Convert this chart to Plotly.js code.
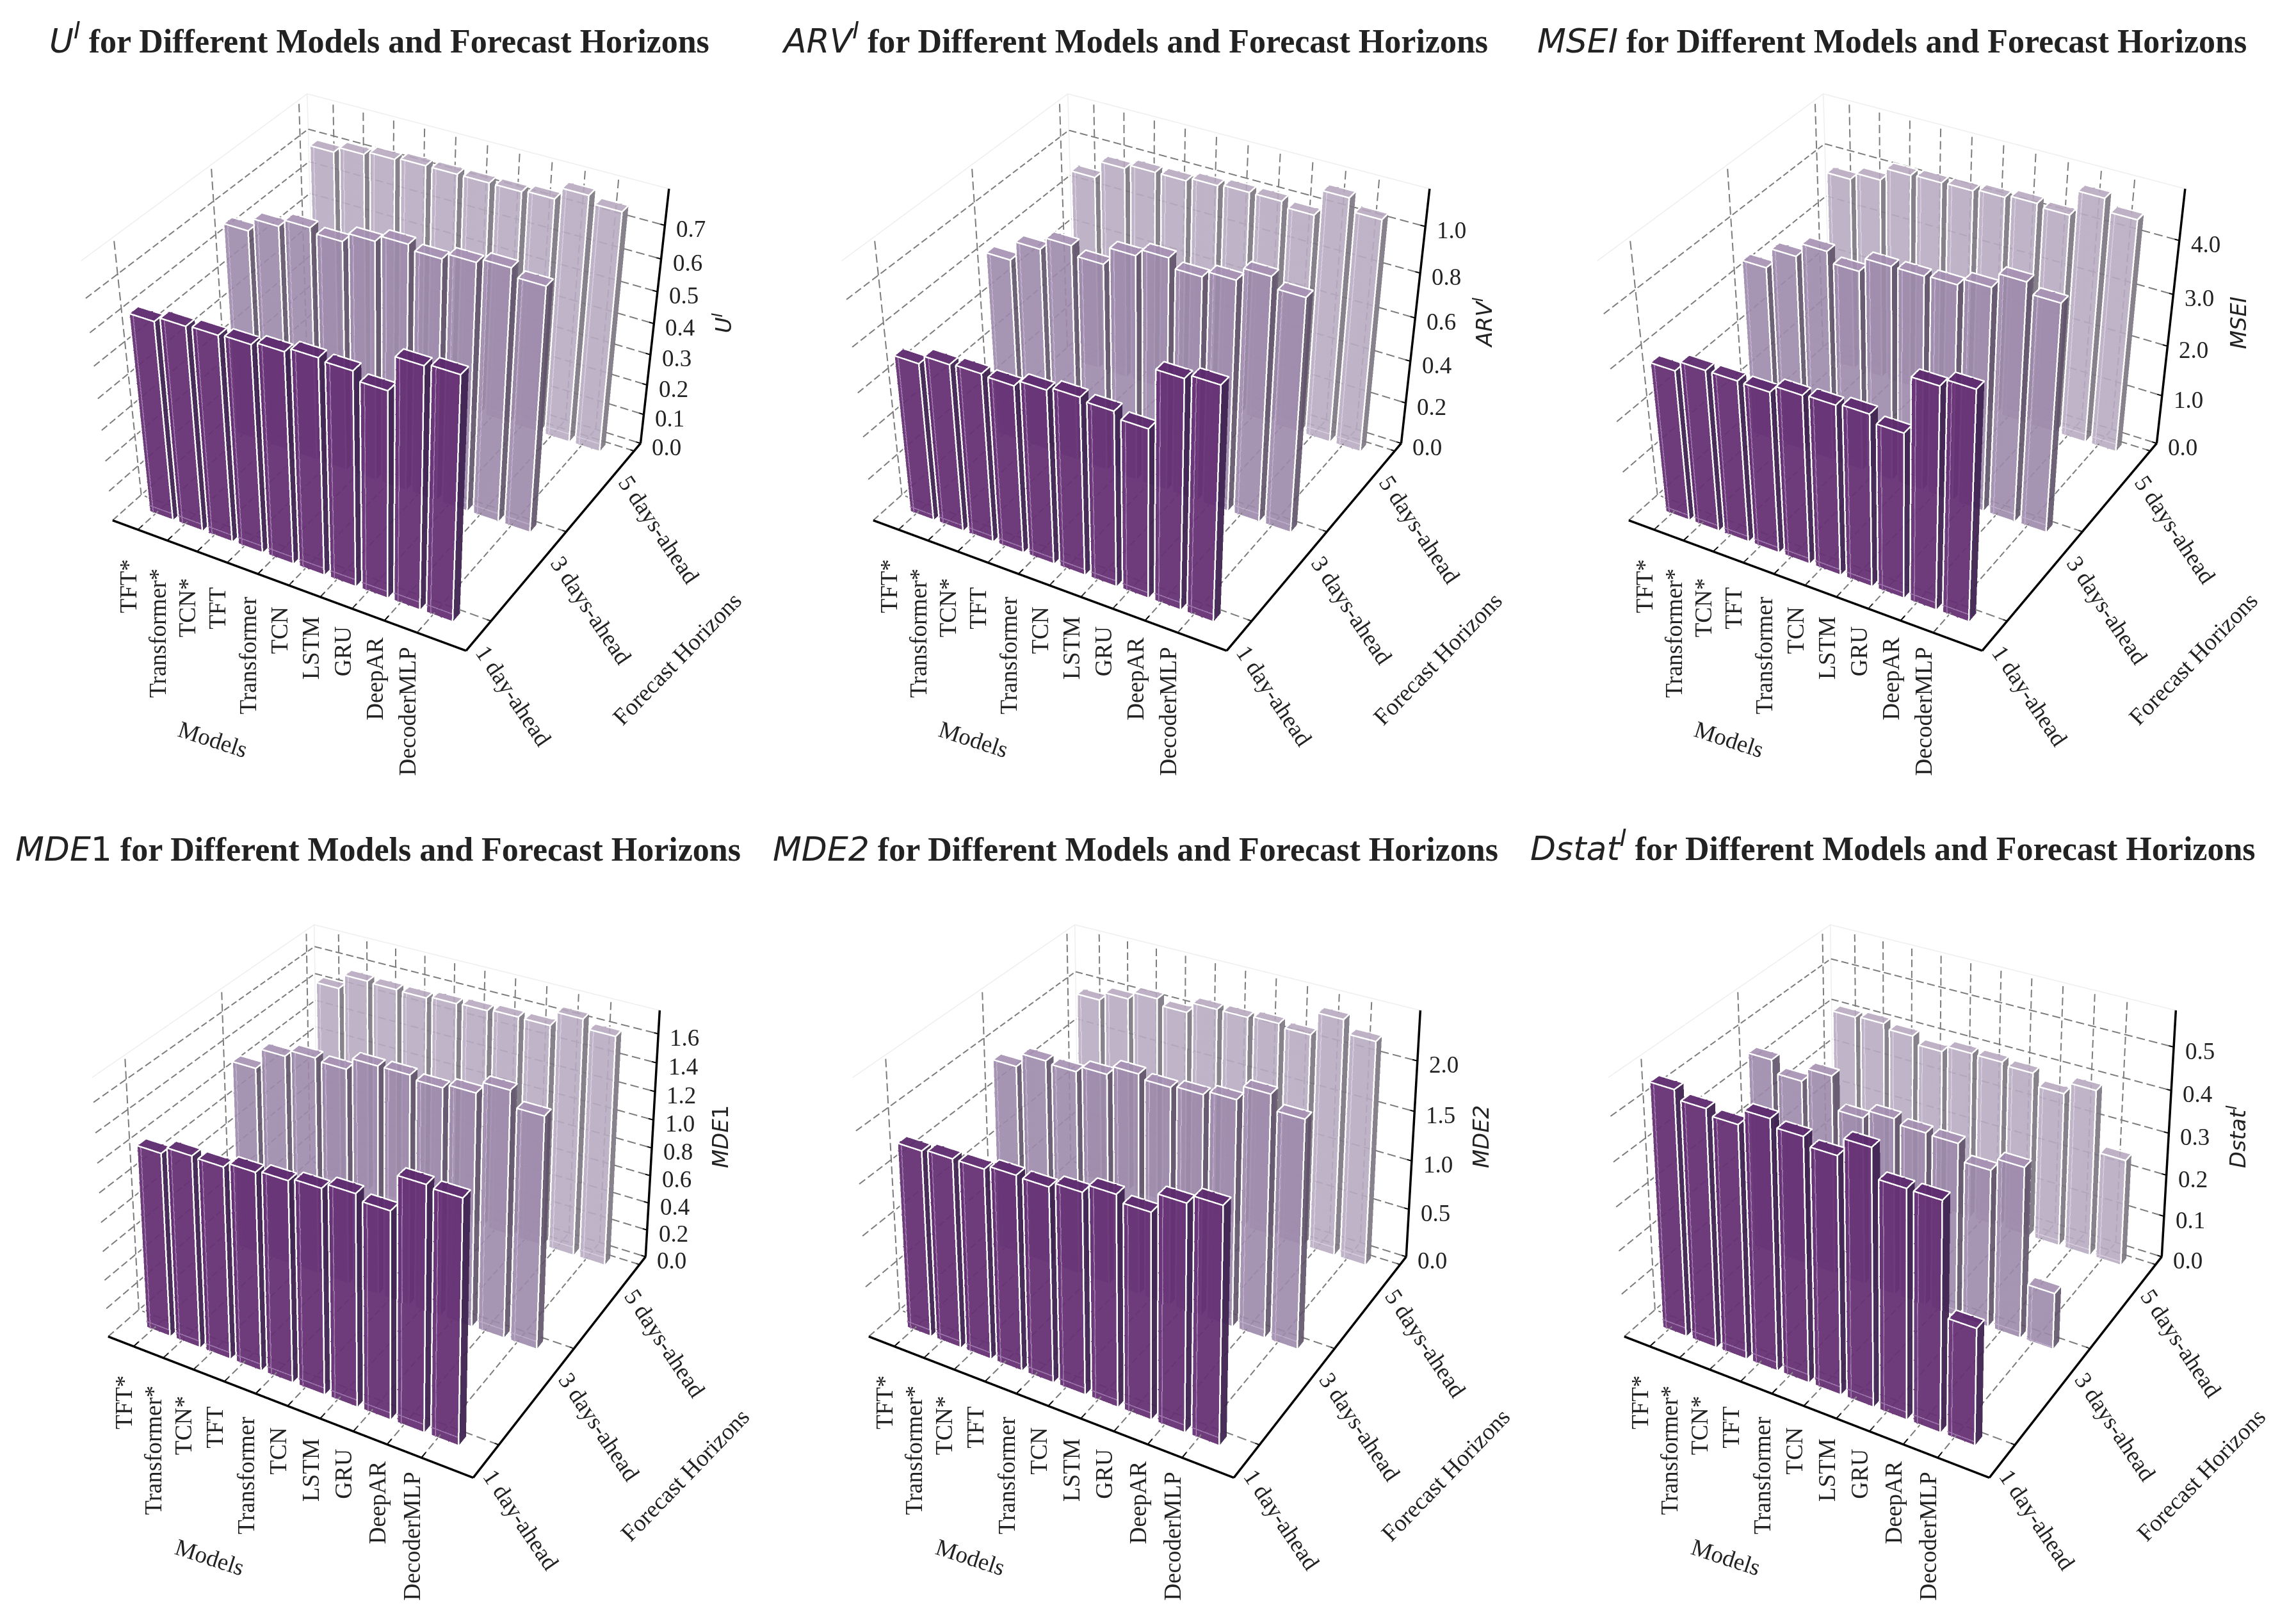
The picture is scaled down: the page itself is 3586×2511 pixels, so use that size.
<!DOCTYPE html>
<html><head><meta charset="utf-8">
<script src="https://cdn.plot.ly/plotly-3.0.1.min.js"></script>
<style>html,body{margin:0;padding:0;background:#fff}</style>
</head><body><div id="chart" style="width:3586px;height:2511px"></div>
<script>
const models = ["TFT*","Transformer*","TCN*","TFT","Transformer","TCN","LSTM","GRU","DeepAR","DecoderMLP"];
const horizons = ["1 day-ahead","3 days-ahead","5 days-ahead"];

const uI_1 = [0.632,0.648,0.652,0.656,0.666,0.680,0.674,0.649,0.751,0.758];
const uI_3 = [0.676,0.716,0.739,0.726,0.754,0.773,0.759,0.777,0.790,0.767];
const uI_5 = [0.708,0.726,0.736,0.742,0.742,0.742,0.742,0.747,0.783,0.762];

const arv_1 = [0.727,0.768,0.774,0.768,0.796,0.812,0.800,0.773,1.027,1.047];
const arv_3 = [0.845,0.931,0.986,0.947,1.023,1.054,1.016,1.043,1.099,1.055];
const arv_5 = [0.906,0.982,1.001,1.001,1.017,1.025,1.025,1.004,1.114,1.061];

const msei_1 = [2.96,3.16,3.16,3.15,3.29,3.31,3.35,3.21,4.24,4.38];
const msei_3 = [3.45,3.83,4.09,3.90,4.16,4.16,4.18,4.31,4.58,4.39];
const msei_5 = [3.82,3.96,4.20,4.22,4.23,4.27,4.32,4.27,4.73,4.51];

const mde1_1 = [1.263,1.313,1.308,1.341,1.355,1.375,1.411,1.373,1.606,1.593];
const mde1_3 = [1.344,1.488,1.536,1.519,1.601,1.602,1.578,1.606,1.686,1.582];
const mde1_5 = [1.463,1.570,1.563,1.559,1.574,1.581,1.593,1.591,1.693,1.632];

const mde2_1 = [1.81,1.83,1.83,1.87,1.86,1.91,1.99,1.93,2.11,2.19];
const mde2_3 = [1.92,2.06,2.04,2.10,2.19,2.15,2.17,2.21,2.35,2.21];
const mde2_5 = [1.95,2.04,2.12,2.06,2.17,2.17,2.19,2.16,2.39,2.26];

const dstat_1 = [0.557,0.537,0.524,0.558,0.542,0.524,0.563,0.501,0.500,0.257];
const dstat_3 = [0.465,0.436,0.468,0.393,0.413,0.402,0.400,0.362,0.391,0.130];
const dstat_5 = [0.415,0.418,0.407,0.389,0.404,0.403,0.397,0.369,0.397,0.254];

const panelNames = ["U","ARV","MSEI","MDE1","MDE2","Dstat"];
const panelSeries = [[uI_1,uI_3,uI_5],[arv_1,arv_3,arv_5],[msei_1,msei_3,msei_5],[mde1_1,mde1_3,mde1_5],[mde2_1,mde2_3,mde2_5],[dstat_1,dstat_3,dstat_5]];
const zTicks = [[0,0.1,0.2,0.3,0.4,0.5,0.6,0.7],[0,0.2,0.4,0.6,0.8,1.0],[0,1,2,3,4],[0,0.2,0.4,0.6,0.8,1.0,1.2,1.4,1.6],[0,0.5,1,1.5,2],[0,0.1,0.2,0.3,0.4,0.5]];
const zTops = [0.806,1.157,4.92,1.76,2.49,0.583];
const mathOf = ["U<sup>I</sup>","ARV<sup>I</sup>","MSEI","MDE<span style='font-style:normal'>1</span>","MDE2","Dstat<sup>I</sup>"];

const centersX = [598,1786,2966,602,1790,2970];
const centersY = [561,561,561,1831,1831,1831];
const titleX = [592,1772,2955,590,1773,2956];
const titleY = [60,60,64,1326,1326,1321];

const W = 3586, H = 2511, COLW = 1180;
const XR = [-0.87,10.47], YR = [-0.31,2.10], EPS = 0.01;
const BAR_L = -0.20, BAR_W = 0.80, BAR_F = -0.12, BAR_D = 0.09;
const ASPECT = {x:0.99,y:0.96,z:0.72};
const ELEV = 32, AZIM = -60, EYE = 4.77, FOCAL = H/2/Math.tan(Math.PI/8);

const rowStyle = [
  {front:"#663174",side:"#3f2350",top:"#5d2a6e",op:0.95,inner:"#9b71aa"},
  {front:"#9d89ab",side:"#5e5168",top:"#a58fb2",op:0.9,inner:"#bda9c8"},
  {front:"#b8acc1",side:"#7a747f",top:"#b7a8bf",op:0.9,inner:"#d6cade"}
];
const GRID="#7c7c7c", PANE="#eeeeee";
const serif="Liberation Serif", math="DejaVu Sans";

function seg(list){ const x=[],y=[],z=[]; list.forEach(p=>{ p.forEach(q=>{x.push(q[0]);y.push(q[1]);z.push(q[2]);}); x.push(null);y.push(null);z.push(null);}); return {x,y,z}; }
function line3(scene,list,color,width){ const s=seg(list); return {type:"scatter3d",mode:"lines",scene,x:s.x,y:s.y,z:s.z,line:{color,width},hoverinfo:"skip",showlegend:false,connectgaps:false}; }

function dashes(p,q,zT){
  const sx=ASPECT.x/(XR[1]-XR[0]), sy=ASPECT.y/(YR[1]-YR[0]), sz=ASPECT.z/zT;
  const L=Math.hypot((q[0]-p[0])*sx,(q[1]-p[1])*sy,(q[2]-p[2])*sz);
  const n=Math.max(1,Math.round(L*30)), out=[];
  for(let t=0;t<n;t++){
    const a=t/n,b=(t+0.68)/n;
    out.push([[p[0]+(q[0]-p[0])*a,p[1]+(q[1]-p[1])*a,p[2]+(q[2]-p[2])*a],[p[0]+(q[0]-p[0])*b,p[1]+(q[1]-p[1])*b,p[2]+(q[2]-p[2])*b]]);
  }
  return out;
}

function rowMesh(scene,vals,r){
  const st=rowStyle[r], xs=[],ys=[],zs=[],I=[],J=[],K=[],fc=[];
  const edges=[],inner=[];
  vals.forEach((v,n)=>{
    const a=n+BAR_L,b=a+BAR_W,c=r+BAR_F,d=c+BAR_D,o=xs.length;
    [[a,c,0],[b,c,0],[b,d,0],[a,d,0],[a,c,v],[b,c,v],[b,d,v],[a,d,v]].forEach(p=>{xs.push(p[0]);ys.push(p[1]);zs.push(p[2]);});
    const tri=(p,q,s,col)=>{I.push(o+p);J.push(o+q);K.push(o+s);fc.push(col);};
    tri(1,2,6,st.side);tri(1,6,5,st.side);
    tri(0,1,5,st.front);tri(0,5,4,st.front);
    tri(4,5,6,st.top);tri(4,6,7,st.top);
    const P=(x,y,z)=>[x,y,z];
    edges.push([P(a,c,0),P(b,c,0),P(b,c,v),P(a,c,v),P(a,c,0)]);
    edges.push([P(a,c,v),P(a,d,v),P(b,d,v),P(b,c,v)]);
    inner.push([P(a+0.13,c,0),P(a+0.13,c,v)]);
    inner.push([P(a,c,v*0.035),P(b,c,v*0.035)]);
  });
  return [
    {type:"mesh3d",scene,x:xs,y:ys,z:zs,i:I,j:J,k:K,facecolor:fc,opacity:st.op,flatshading:true,
     lighting:{ambient:1,diffuse:0,specular:0,roughness:1,fresnel:0},hoverinfo:"skip",showscale:false},
    line3(scene,inner,st.inner,3),
    line3(scene,edges,"#ffffff",5)
  ];
}

function cameraFor(cy){
  const e=ELEV*Math.PI/180,a=AZIM*Math.PI/180,D=EYE*Math.cos(e),Zh=EYE*Math.sin(e);
  const th=Math.atan((H/2-cy)/FOCAL);
  const h=D*Math.tan(e+th)-Zh;
  return {eye:{x:D*Math.cos(a),y:D*Math.sin(a),z:Zh},center:{x:0,y:0,z:-h},up:{x:0,y:0,z:1},projection:{type:"perspective"}};
}

const data=[], layout={width:W,height:H,margin:{l:0,r:0,t:0,b:0},paper_bgcolor:"#fff",showlegend:false,annotations:[]};
panelNames.forEach((name,p)=>{
  const scene = p===0?"scene":"scene"+(p+1), zT=zTops[p], Z=zTicks[p], xmin=XR[0],xmax=XR[1],ymin=YR[0],ymax=YR[1];
  data.push(line3(scene,[[[xmin,ymin,zT],[xmin,ymax,zT],[xmax,ymax,zT]],[[xmin,ymax,0],[xmin,ymax,zT]]],PANE,3));
  let grid=[];
  const run=(a,b,c)=>{grid=grid.concat(dashes(a,b,zT),dashes(b,c,zT));};
  models.forEach((m,i)=>run([i,ymin,0],[i,ymax,0],[i,ymax,zT]));
  horizons.forEach((h,r)=>run([xmax,r,0],[xmin,r,0],[xmin,r,zT]));
  Z.forEach(z=>run([xmin,ymin,z],[xmin,ymax,z],[xmax,ymax,z]));
  data.push(line3(scene,grid,GRID,4));
  [2,1,0].forEach(r=>rowMesh(scene,panelSeries[p][r],r).forEach(t=>data.push(t)));
  data.push(line3(scene,[[[xmin,ymin,0],[xmax,ymin,0]],[[xmax,ymin,0],[xmax,ymax,0]],[[xmax,ymax,0],[xmax,ymax,zT]]],"#000000",7));
  const tk=[];
  models.forEach((m,i)=>tk.push([[i,ymin,0],[i,ymin+0.05,0]]));
  horizons.forEach((h,r)=>tk.push([[xmax,r,0],[xmax-0.12,r,0]]));
  Z.forEach(z=>tk.push([[xmax,ymax,z],[xmax-0.15,ymax,z]]));
  data.push(line3(scene,tk,"#000000",4));

  const anns=[];
  const lab=(x,y,z,text,o)=>anns.push(Object.assign({x,y,z,text,showarrow:false,font:{family:serif,size:37,color:"#222"}},o));
  models.forEach((m,i)=>lab(i,ymin,0,m,{textangle:-90,xanchor:"center",yanchor:"top",xshift:-15,yshift:-44+2.6*i}));
  horizons.forEach((h,r)=>lab(xmax,r,0,h,{textangle:56,xanchor:"left",yanchor:"top",xshift:-35,yshift:-28}));
  Z.forEach(z=>lab(xmax,ymax,z,z.toFixed(1),{xanchor:"left",yanchor:"middle",xshift:16,yshift:-6}));
  lab(2,ymin,0,"Models",{textangle:18,xanchor:"center",yanchor:"middle",xshift:25,yshift:-293});
  lab(xmax,1,0,"Forecast Horizons",{textangle:-46,xanchor:"center",yanchor:"middle",xshift:173,yshift:-198});
  lab(xmax,ymax,zT/2,"<i>"+mathOf[p]+"</i>",{textangle:-90,xanchor:"center",yanchor:"middle",xshift:106,yshift:0,font:{family:math,size:34,color:"#222"}});

  layout[scene]={
    domain:{x:[(centersX[p]-COLW/2)/W,(centersX[p]+COLW/2)/W],y:[0,1]},
    aspectmode:"manual",aspectratio:ASPECT,
    camera:cameraFor(centersY[p]),
    xaxis:{range:[XR[0]-EPS,XR[1]+EPS],tickvals:models.map((m,i)=>i),ticktext:models,showticklabels:false,showgrid:false,zeroline:false,showline:false,ticks:"",showbackground:false,showspikes:false,title:{text:""}},
    yaxis:{range:[YR[0]-EPS,YR[1]+EPS],tickvals:[0,1,2],ticktext:horizons,showticklabels:false,showgrid:false,zeroline:false,showline:false,ticks:"",showbackground:false,showspikes:false,title:{text:""}},
    zaxis:{range:[-EPS*zT,zT*(1+EPS)],tickvals:Z,showticklabels:false,showgrid:false,zeroline:false,showline:false,ticks:"",showbackground:false,showspikes:false,title:{text:""}},
    annotations:anns,bgcolor:"rgba(0,0,0,0)"
  };
  layout.annotations.push({xref:"paper",yref:"paper",x:titleX[p]/W,y:1-titleY[p]/H,xanchor:"center",yanchor:"middle",showarrow:false,
    font:{family:serif,size:52,color:"#222"},
    text:"<span style='font-family:DejaVu Sans;font-style:italic'>"+mathOf[p]+"</span> <b>for Different Models and Forecast Horizons</b>"});
});
Plotly.newPlot("chart",data,layout,{displayModeBar:false});
</script></body></html>
